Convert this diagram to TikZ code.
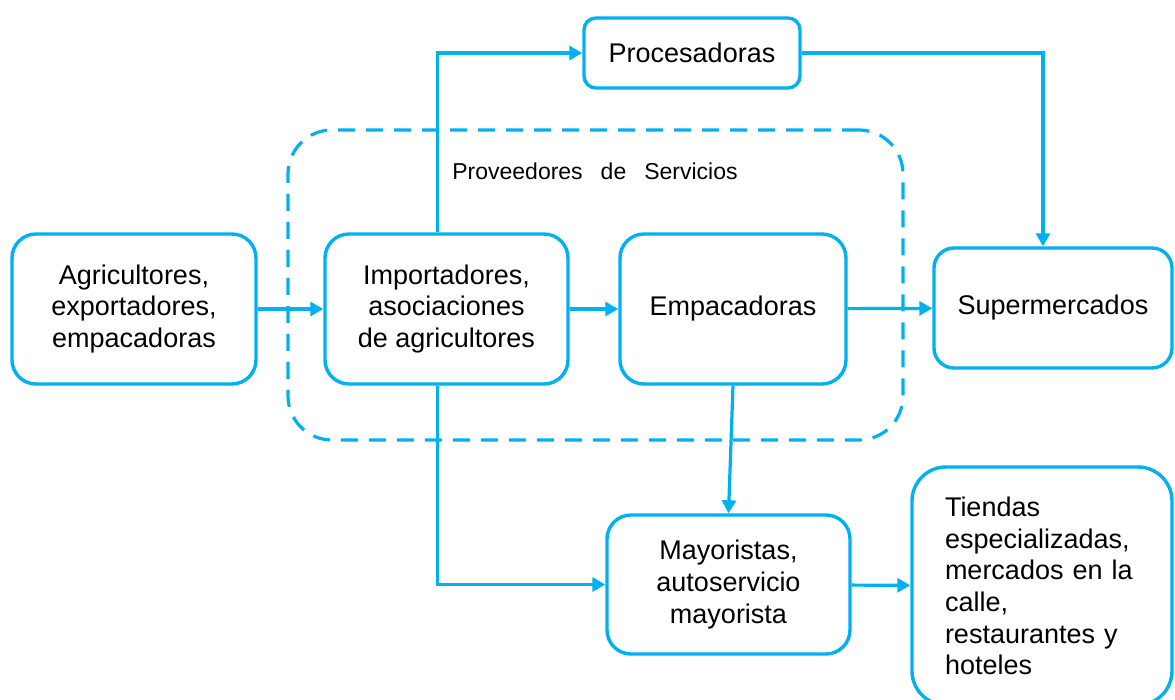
\documentclass[tikz,border=0pt]{standalone}
\usepackage{fontspec}
\setmainfont{Liberation Sans}
\usetikzlibrary{arrows.meta}
\definecolor{chainblue}{RGB}{0,176,240}

\begin{document}
\begin{tikzpicture}[x=0.5pt,y=-0.5pt]

%
% Styles
%
\tikzstyle{actor} = [draw=chainblue,line width=1.7pt,fill=white,rounded corners=12pt,align=center,inner sep=0pt,font=\fontsize{13.5}{15.8}\selectfont]
\tikzstyle{group} = [draw=chainblue,line width=1.6pt,dash pattern=on 8.5pt off 5.5pt,rounded corners=22pt,inner sep=0pt]
\tikzstyle{grouplabel} = [font=\fontsize{11.5}{13}\selectfont]
\tikzstyle{flow}  = [-{Triangle[length=6.5pt,width=7pt]},line width=1.6pt,draw=chainblue,color=chainblue]

\useasboundingbox (0,0) rectangle (1175,700);

\node[group,minimum width=307.5pt,minimum height=155pt] (serv) at (595.5,285) {};
\node[grouplabel] (servlabel) at (595,171) {Proveedores\hspace{9pt}de\hspace{9pt}Servicios};

\node[actor,minimum width=108pt,minimum height=35pt,rounded corners=6pt] (proc) at (692,53) {Procesadoras};
\node[actor,minimum width=122pt,minimum height=75pt] (agri) at (134,309) {Agricultores,\\exportadores,\\empacadoras};
\node[actor,minimum width=121.5pt,minimum height=75pt] (imp) at (446.5,309) {Importadores,\\asociaciones\\de agricultores};
\node[actor,minimum width=113pt,minimum height=75pt] (emp) at (733,309) {Empacadoras};
\node[actor,minimum width=119pt,minimum height=60pt,rounded corners=10pt] (super) at (1053,308) {Supermercados};
\node[actor,minimum width=121.5pt,minimum height=69.5pt] (may) at (728.5,584.5) {Mayoristas,\\autoservicio\\mayorista};
\node[actor,minimum width=130pt,minimum height=119pt,rounded corners=17pt,align=left,text width=97pt] (tiendas) at (1042,586) {Tiendas\\especializadas,\\mercados en la\\calle,\\restaurantes y\\hoteles};

\draw[flow] (agri) -- (imp);
\draw[flow] (imp) -- (emp);
\draw[flow] (emp) -- (super);

\draw[flow] ([xshift=-4.5pt]imp.north) |- (proc.west);
\draw[flow] (proc.east) -| ([xshift=-5pt]super.north);

\draw[flow] (emp.south) -- (may.north);
\draw[flow] ([xshift=-4.5pt]imp.south) |- (may.west);
\draw[flow] (may) -- (tiendas);

\end{tikzpicture}
\end{document}
